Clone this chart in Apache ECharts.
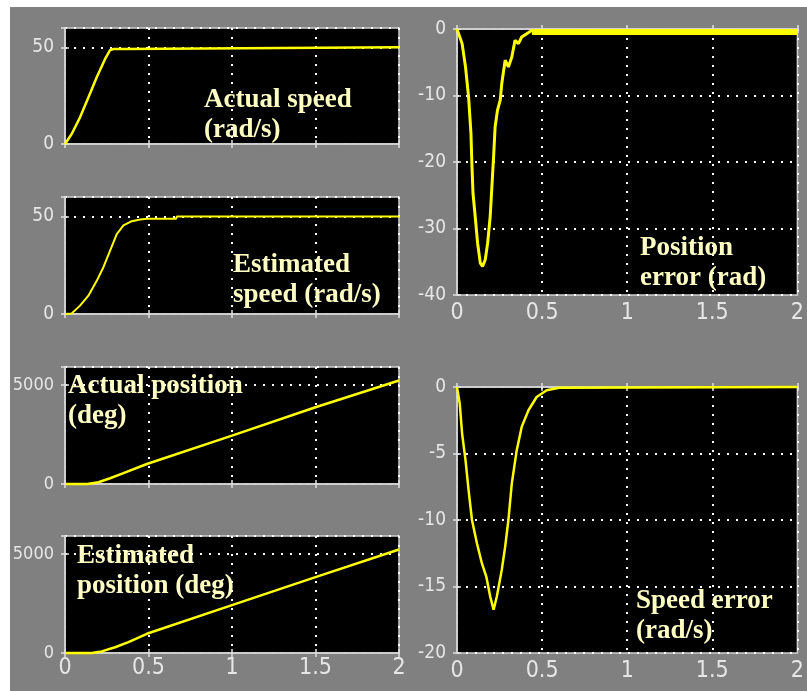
<!DOCTYPE html>
<html>
<head>
<meta charset="utf-8">
<script src="https://cdn.jsdelivr.net/npm/echarts@6/dist/echarts.min.js"></script>
<style>
html, body { margin: 0; padding: 0; background: #fff; }
#chart { width: 807px; height: 691px; }
</style>
</head>
<body>
<div id="chart"></div>
<script>
// time axis ticks (s)
var timeTicks = [0, 0.5, 1, 1.5, 2];

// actual speed (rad/s)
var actSpeedT = [0, 0.04, 0.09, 0.14, 0.19, 0.24, 0.27, 0.29, 0.353, 0.36, 2];
var actSpeedV = [0, 5.2, 13.8, 24, 34.5, 44, 48.6, 49.1, 49.1, 50, 50];

// estimated speed (rad/s)
var estSpeedT = [0, 0.04, 0.09, 0.14, 0.19, 0.23, 0.27, 0.31, 0.35, 0.4, 0.45, 0.49, 0.665, 0.67, 2];
var estSpeedV = [0, 0.3, 4.3, 9.4, 17, 24, 32.5, 41, 45.4, 47.6, 48.5, 48.8, 48.8, 50, 50];

// actual position (deg)
var actPosT = [0, 0.134, 0.2, 0.27, 0.35, 0.49, 1, 1.5, 2];
var actPosV = [0, 0, 90, 290, 550, 1010, 2440, 3870, 5220];

// estimated position (deg)
var estPosT = [0, 0.16, 0.22, 0.3, 0.38, 0.49, 1, 1.5, 2];
var estPosV = [0, 0, 80, 290, 550, 970, 2415, 3827, 5220];

// position error (rad)
var posErrT = [0, 0.03, 0.05, 0.068, 0.082, 0.088, 0.094, 0.107, 0.121, 0.137, 0.15, 0.166, 0.18, 0.195, 0.205, 0.215, 0.224, 0.238, 0.254, 0.263, 0.283, 0.302, 0.322, 0.341, 0.361, 0.38, 0.41, 0.44, 0.47];
var posErrV = [0, -2.2, -5.7, -10.2, -15.7, -20.7, -24.7, -28.2, -32.2, -35.2, -35.7, -34.7, -32.2, -28.2, -23.7, -19.2, -14.7, -12.2, -10.7, -8.2, -4.7, -5.7, -4.2, -1.7, -2.2, -1.2, -0.7, -0.2, -0.7];
// steady ripple band after settling
var posBandT = [0.44, 2];
var posBandV = [-0.45, -0.45];

// speed error (rad/s)
var spdErrT = [0, 0.016, 0.03, 0.05, 0.068, 0.088, 0.117, 0.146, 0.172, 0.195, 0.215, 0.234, 0.263, 0.283, 0.302, 0.322, 0.351, 0.38, 0.42, 0.468, 0.527, 0.6, 2];
var spdErrV = [0, -1.25, -3.5, -5.5, -7.75, -10, -11.75, -13.25, -14.25, -15.75, -16.75, -15.75, -13.75, -12, -10, -7.25, -4.75, -3, -1.75, -0.75, -0.25, -0.05, 0];

function zip(t, v) {
    return t.map(function (x, i) { return [x, v[i]]; });
}

var panels = [
    { left: 65, top: 28, width: 334, height: 116, min: 0, max: 60, interval: 50, xLabels: false, yFont: 19 },
    { left: 65, top: 197, width: 334, height: 117, min: 0, max: 60, interval: 50, xLabels: false, yFont: 19 },
    { left: 65, top: 367, width: 334, height: 117, min: 0, max: 5900, interval: 5000, xLabels: false, yFont: 18 },
    { left: 65, top: 536, width: 334, height: 117, min: 0, max: 5900, interval: 5000, xLabels: true, yFont: 18 },
    { left: 457, top: 29, width: 341, height: 266, min: -40, max: 0, interval: 10, xLabels: true, yFont: 19 },
    { left: 457, top: 387, width: 341, height: 266, min: -20, max: 0, interval: 5, xLabels: true, yFont: 19 }
];

var labelFont = "'Liberation Sans Narrow', 'DejaVu Sans Condensed', 'Liberation Sans', sans-serif";
var dotted = { color: '#ffffff', width: 2, type: [2, 7] };
var tickStyle = { show: true, inside: true, length: 4, lineStyle: { color: '#e0e0e0', width: 1.5 } };

var grids = [], xAxes = [], yAxes = [];
panels.forEach(function (p, i) {
    grids.push({
        left: p.left, top: p.top, width: p.width, height: p.height,
        show: true, backgroundColor: '#000', borderColor: '#cfcfcf', borderWidth: 1.5,
        containLabel: false
    });
    xAxes.push({
        type: 'value', gridIndex: i, min: 0, max: 2, interval: 0.5,
        axisLine: { show: true, lineStyle: { color: '#cfcfcf', width: 1.5 } },
        axisTick: tickStyle,
        splitLine: { show: true, lineStyle: dotted },
        axisLabel: {
            show: p.xLabels, color: '#e6e6e6', fontSize: 23, fontFamily: labelFont,
            margin: i >= 4 ? 7 : 4, showMinLabel: true, showMaxLabel: true,
            formatter: function (v) { return String(v); }
        }
    });
    xAxes.push({
        type: 'value', gridIndex: i, position: 'top', min: 0, max: 2, interval: 0.5,
        axisLine: { show: true, lineStyle: { color: '#cfcfcf', width: 1.5 } },
        axisTick: tickStyle, splitLine: { show: false }, axisLabel: { show: false }
    });
    yAxes.push({
        type: 'value', gridIndex: i, min: p.min, max: p.max, interval: p.interval,
        axisLine: { show: true, lineStyle: { color: '#cfcfcf', width: 1.5 } },
        axisTick: tickStyle,
        splitLine: { show: true, lineStyle: dotted },
        axisLabel: {
            color: '#e6e6e6', fontSize: p.yFont, fontFamily: labelFont, margin: 11,
            showMinLabel: true, showMaxLabel: p.max === 0,
            formatter: function (v) { return String(v); }
        }
    });
    yAxes.push({
        type: 'value', gridIndex: i, position: 'right', min: p.min, max: p.max, interval: p.interval,
        axisLine: { show: true, lineStyle: { color: '#cfcfcf', width: 1.5 } },
        axisTick: tickStyle, splitLine: { show: false }, axisLabel: { show: false }
    });
});

function line(idx, data, width) {
    return {
        type: 'line', xAxisIndex: idx * 2, yAxisIndex: idx * 2, data: data,
        showSymbol: false, clip: false, z: 5,
        lineStyle: { color: '#ffff00', width: width || 2 }
    };
}

var noteStyle = {
    fill: '#ffffc4', fontFamily: "'Liberation Serif', 'Times New Roman', serif",
    fontWeight: 'bold', fontSize: 27, lineHeight: 30, verticalAlign: 'middle', align: 'left'
};
function note(x, y, text) {
    return { type: 'text', x: x, y: y, z: 100, style: Object.assign({ text: text }, noteStyle) };
}

var chart = echarts.init(document.getElementById('chart'));
chart.setOption({
    backgroundColor: '#ffffff',
    animation: false,
    grid: grids,
    xAxis: xAxes,
    yAxis: yAxes,
    series: [
        line(0, zip(actSpeedT, actSpeedV), 2.5),
        line(1, zip(estSpeedT, estSpeedV), 2),
        line(2, zip(actPosT, actPosV), 2.5),
        line(3, zip(estPosT, estPosV), 2.5),
        line(4, zip(posErrT, posErrV), 3),
        line(4, zip(posBandT, posBandV), 6),
        line(5, zip(spdErrT, spdErrV), 2.5)
    ],
    graphic: [
        { type: 'rect', z: -100, shape: { x: 10, y: 7, width: 797, height: 684 }, style: { fill: '#808080' } },
        note(204, 115, 'Actual speed\n(rad/s)'),
        note(233, 280, 'Estimated\nspeed (rad/s)'),
        note(68, 401, 'Actual position\n(deg)'),
        note(77, 571, 'Estimated\nposition (deg)'),
        note(640, 263, 'Position\nerror (rad)'),
        note(636, 616, 'Speed error\n(rad/s)')
    ]
});
</script>
</body>
</html>
